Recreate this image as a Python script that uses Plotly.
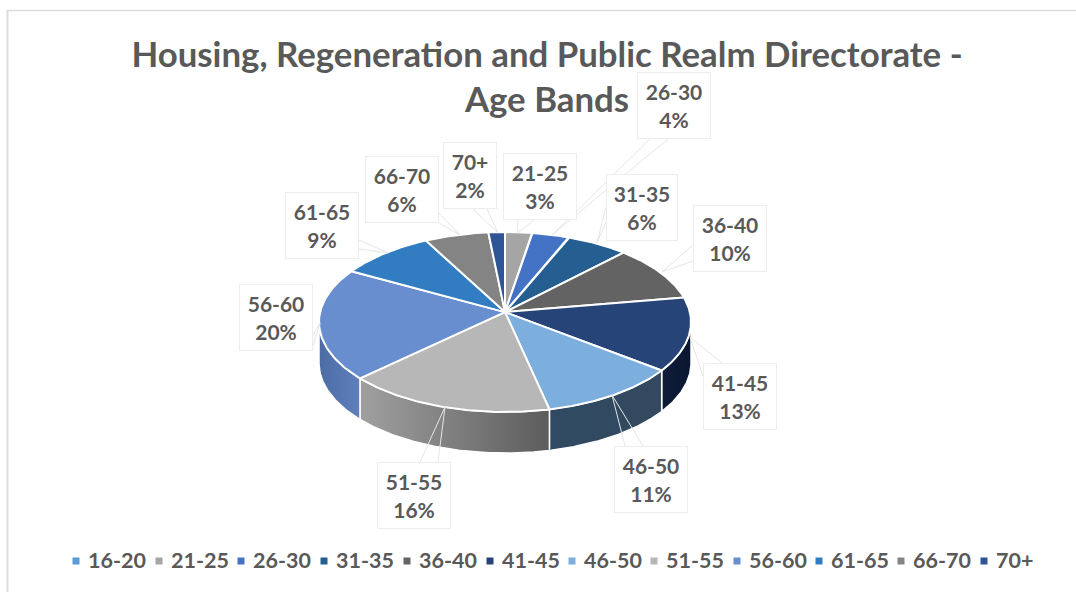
import numpy as np
import plotly.graph_objects as go

# ---- data ----
categories = ["16-20", "21-25", "26-30", "31-35", "36-40", "41-45",
              "46-50", "51-55", "56-60", "61-65", "66-70", "70+"]
values = [0, 2.6, 3.6, 6.0, 10.2, 13.2, 11.1, 16.4, 20.2, 9.2, 6.2, 1.6]
colors = ["#5b9bd5", "#a5a5a5", "#4472c4", "#255e91", "#636363", "#264478",
          "#7cafdd", "#b7b7b7", "#698ed0", "#327dc2", "#848484", "#2f5597"]
side_left = ["#5b9bd5", "#a0a0a0", "#4472c4", "#255e91", "#636363", "#0f1c38",
             "#2f4a62", "#a0a0a0", "#4c6ca6", "#327dc2", "#848484", "#2f5597"]
side_right = ["#5b9bd5", "#5a5a5a", "#4472c4", "#255e91", "#636363", "#0b1730",
              "#33495f", "#5c5c5c", "#5f80bb", "#327dc2", "#848484", "#2f5597"]
title_text = "Housing, Regeneration and Public Realm Directorate -<br>Age Bands"

# ---- layout of the page (pixels) ----
W, H = 1076, 592
CX, CY, RX, RY = 505, 322, 186, 90
PERSP = 0.11
DEPTH = 41
TEXT = "#595959"
FONT = "Lato"

label_box = {
    "21-25": (540, 186, 74), "26-30": (674, 105.5, 74), "31-35": (642, 207.5, 72),
    "36-40": (730, 238, 74), "41-45": (740, 396.5, 74), "46-50": (651, 479.5, 74),
    "51-55": (414, 495.5, 74), "56-60": (276, 317.5, 74), "61-65": (322, 225.5, 74),
    "66-70": (402, 189.5, 74), "70+": (470, 175.5, 54),
}
leaders = {
    "21-25": [(517, 219), (518, 233), (535, 219)],
    "26-30": [(650, 139), (552, 235), (668, 139)],
    "31-35": [(606, 207), (597, 243), (606, 222)],
    "36-40": [(693, 245), (662, 272), (693, 261)],
    "41-45": [(722, 363), (690, 337), (703, 376)],
    "46-50": [(625, 446), (612, 395), (643, 446)],
    "51-55": [(420, 462), (445, 407), (438, 462)],
    "56-60": [(313, 335), (320, 323), (313, 346)],
    "61-65": [(359, 240), (388, 253), (359, 249)],
    "66-70": [(438, 212), (460, 235), (439, 223)],
    "70+": [(473, 209), (498, 233), (487, 209)],
}
legend_x = [76, 159, 241, 324, 407, 490, 572, 654, 737, 819, 901, 984]
LEGEND_Y = 561


def rim(theta):
    """Point of the perspective-tilted pie rim, for clockwise angle from 12 o'clock."""
    u, v = np.sin(theta), np.cos(theta)
    d = 1 + PERSP * v
    return u * np.sqrt(1 - PERSP ** 2) / d, (v + PERSP) / d


total = sum(values)
edges = np.cumsum([0] + values) / total * 2 * np.pi
apex = (CX, CY - RY * PERSP)

fig = go.Figure()

# sides of the disc
for i, cat in enumerate(categories):
    if values[i] == 0:
        continue
    th = np.linspace(edges[i], edges[i + 1], 80)
    u, v = rim(th)
    keep = v <= 0
    if not keep.any():
        continue
    x = CX + RX * u[keep]
    y = CY - RY * v[keep]
    fig.add_trace(go.Scatter(
        x=np.r_[x, x[::-1], x[0]], y=np.r_[y, y[::-1] + DEPTH, y[0]],
        mode="lines", fill="toself", line=dict(color="white", width=1.5),
        fillgradient=dict(type="horizontal", colorscale=[[0, side_left[i]], [1, side_right[i]]]),
        hoverinfo="skip", showlegend=False))

# top faces
for i, cat in enumerate(categories):
    if values[i] == 0:
        continue
    th = np.linspace(edges[i], edges[i + 1], 80)
    u, v = rim(th)
    fig.add_trace(go.Scatter(
        x=np.r_[apex[0], CX + RX * u, apex[0]], y=np.r_[apex[1], CY - RY * v, apex[1]],
        mode="lines", fill="toself", fillcolor=colors[i],
        line=dict(color="white", width=2), name=cat,
        text=f"{cat}: {round(values[i] / total * 100)}%", hoverinfo="text", showlegend=False))

# callout leaders
for cat, pts in leaders.items():
    fig.add_trace(go.Scatter(
        x=[p[0] for p in pts], y=[p[1] for p in pts], mode="lines",
        line=dict(color="#e6e6e6", width=1), hoverinfo="skip", showlegend=False))

# legend row
for i, cat in enumerate(categories):
    fig.add_trace(go.Scatter(
        x=[legend_x[i]], y=[LEGEND_Y], mode="markers",
        marker=dict(symbol="square", size=7, color=colors[i]),
        hoverinfo="skip", showlegend=False))
    fig.add_annotation(
        x=legend_x[i] + 10, y=LEGEND_Y - 1, xref="x", yref="y", xanchor="left", yanchor="middle",
        showarrow=False, text=cat,
        font=dict(family=FONT, size=21.5, color=TEXT, weight="bold"))

# data labels
for i, cat in enumerate(categories):
    if cat not in label_box:
        continue
    bx, by, bw = label_box[cat]
    fig.add_annotation(
        x=bx, y=by, xref="x", yref="y", showarrow=False,
        text=f"{cat}<br>{round(values[i] / total * 100)}%",
        width=bw - 2, height=65, align="center", valign="middle",
        bgcolor="white", bordercolor="#ededed", borderwidth=1, borderpad=0,
        font=dict(family=FONT, size=21, color=TEXT, weight="bold"))

fig.update_layout(
    width=W, height=H, margin=dict(l=0, r=0, t=0, b=0),
    paper_bgcolor="white", plot_bgcolor="white", showlegend=False,
    title=dict(text=title_text, x=547 / W, xanchor="center", y=1 - 66.5 / H, yanchor="middle",
               font=dict(family=FONT, size=34.8, color=TEXT, weight="bold")),
    xaxis=dict(range=[0, W], visible=False, fixedrange=True),
    yaxis=dict(range=[H, 0], visible=False, fixedrange=True),
    shapes=[
        dict(type="line", xref="x", yref="y", x0=7.5, x1=7.5, y0=10, y1=H,
             line=dict(color="#dcdcdc", width=2), layer="below"),
        dict(type="line", xref="x", yref="y", x0=7, x1=W, y0=10.5, y1=10.5,
             line=dict(color="#dcdcdc", width=1.5), layer="below"),
    ],
)

fig.write_html("out.html", config={"displayModeBar": False},
               post_script="document.body.style.margin='0';")
